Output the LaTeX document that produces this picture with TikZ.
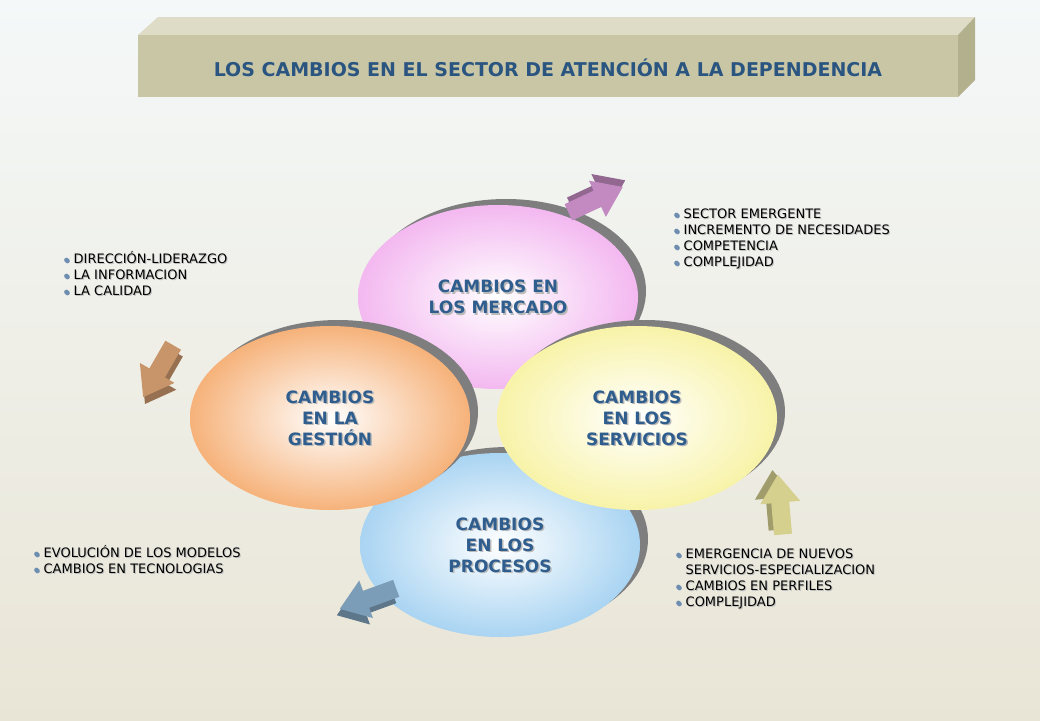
\documentclass[tikz,border=0pt]{standalone}
\usepackage{fontspec}
\setmainfont{DejaVu Sans}
\usetikzlibrary{shadings}
\definecolor{bgb}{HTML}{E9E5D6}
\definecolor{bgt}{HTML}{F4F8F8}
\definecolor{ttl}{HTML}{C9C6A6}
\definecolor{ttltop}{HTML}{DEDCC6}
\definecolor{ttlside}{HTML}{B3B08E}
\definecolor{lbl}{HTML}{2F5E8E}
\definecolor{ringc}{HTML}{7E7E7E}
\definecolor{cpink}{HTML}{F3B8F0}
\definecolor{corange}{HTML}{F6B27A}
\definecolor{cyellow}{HTML}{F8F3A8}
\definecolor{cblue}{HTML}{A9D4F2}
\definecolor{apink}{HTML}{C28AC0}
\definecolor{abrown}{HTML}{C8956A}
\definecolor{ayellow}{HTML}{D6D08E}
\definecolor{ablue}{HTML}{7C9DB8}
\tikzset{
  lab/.style={font=\bfseries\fontsize{17}{21}\selectfont, text=lbl, align=center},
  labsh/.style={font=\bfseries\fontsize{17}{21}\selectfont, text=gray!55, align=center},
  lst/.style={font=\fontsize{13}{16}\selectfont, align=left, anchor=north west},
  lstsh/.style={font=\fontsize{13}{16}\selectfont, align=left, anchor=north west, text=gray!50},
}
\newcommand\myblk[4]{%
 \begin{scope}[shift={(#1,#2)},rotate=#3]
  \fill[#4!75!black] (-30,-9)--(2,-9)--(2,-20)--(30,0)--(2,20)--(2,9)--(-30,9)--cycle;
  \fill[#4] (-35,-4)--(-3,-4)--(-3,-15)--(25,5)--(-3,25)--(-3,14)--(-35,14)--cycle;
 \end{scope}}
\newcommand\myoval[5]{%
  \fill[ringc] (#1+8,#2-6) ellipse (140 and 92);
  \shade[inner color=white, outer color=#4] (#1,#2) ellipse (140 and 92);
  \node[labsh] at (#1+1.5,#2+1.5) {#5};
  \node[lab] (#3) at (#1,#2) {#5};}
\newcommand\mybl{\textcolor{lbl!70}{$\bullet$}~}
\begin{document}
\begin{tikzpicture}[x=1pt,y=-1pt]
\useasboundingbox (0,0) rectangle (1040,720);
\shade[top color=bgt, bottom color=bgb] (0,0) rectangle (1040,720);
% title box
\fill[ttltop] (138,35)--(158,17)--(975,17)--(958,35)--cycle;
\fill[ttlside] (958,35)--(975,17)--(975,80)--(958,97)--cycle;
\fill[ttl] (138,35) rectangle (958,97);
\node[font=\bfseries\fontsize{19}{22}\selectfont, text=lbl!90!black] (title) at (548,68) {LOS CAMBIOS EN EL SECTOR DE ATENCIÓN A LA DEPENDENCIA};
% ellipses
\myoval{498}{297}{mer}{cpink}{CAMBIOS EN\\LOS MERCADO}
\myoval{500}{545}{pro}{cblue}{CAMBIOS\\ EN LOS\\PROCESOS}
\myoval{330}{418}{ges}{corange}{CAMBIOS\\ EN LA\\GESTIÓN}
\myoval{637}{418}{ser}{cyellow}{CAMBIOS\\EN LOS\\SERVICIOS}
% arrows
\myblk{598}{193}{25}{apink}
\myblk{160}{378}{-120}{abrown}
\myblk{775}{500}{95}{ayellow}
\myblk{365}{605}{200}{ablue}
% lists
\node[lstsh] at (61,249) {\mybl DIRECCIÓN-LIDERAZGO\\\mybl LA INFORMACION\\\mybl LA CALIDAD};
\node[lst] (l1) at (60,248) {\mybl DIRECCIÓN-LIDERAZGO\\\mybl LA INFORMACION\\\mybl LA CALIDAD};
\node[lstsh] at (671,206) {\mybl SECTOR EMERGENTE\\\mybl INCREMENTO DE NECESIDADES\\\mybl COMPETENCIA\\\mybl COMPLEJIDAD};
\node[lst] (l2) at (670,205) {\mybl SECTOR EMERGENTE\\\mybl INCREMENTO DE NECESIDADES\\\mybl COMPETENCIA\\\mybl COMPLEJIDAD};
\node[lstsh] at (31,543) {\mybl EVOLUCIÓN DE LOS MODELOS\\\mybl CAMBIOS EN TECNOLOGIAS};
\node[lst] (l3) at (30,542) {\mybl EVOLUCIÓN DE LOS MODELOS\\\mybl CAMBIOS EN TECNOLOGIAS};
\node[lstsh] at (673,546) {\mybl EMERGENCIA DE NUEVOS\\\phantom{\mybl}SERVICIOS-ESPECIALIZACION\\\mybl CAMBIOS EN PERFILES\\\mybl COMPLEJIDAD};
\node[lst] (l4) at (672,545) {\mybl EMERGENCIA DE NUEVOS\\\phantom{\mybl}SERVICIOS-ESPECIALIZACION\\\mybl CAMBIOS EN PERFILES\\\mybl COMPLEJIDAD};
\end{tikzpicture}
\end{document}
